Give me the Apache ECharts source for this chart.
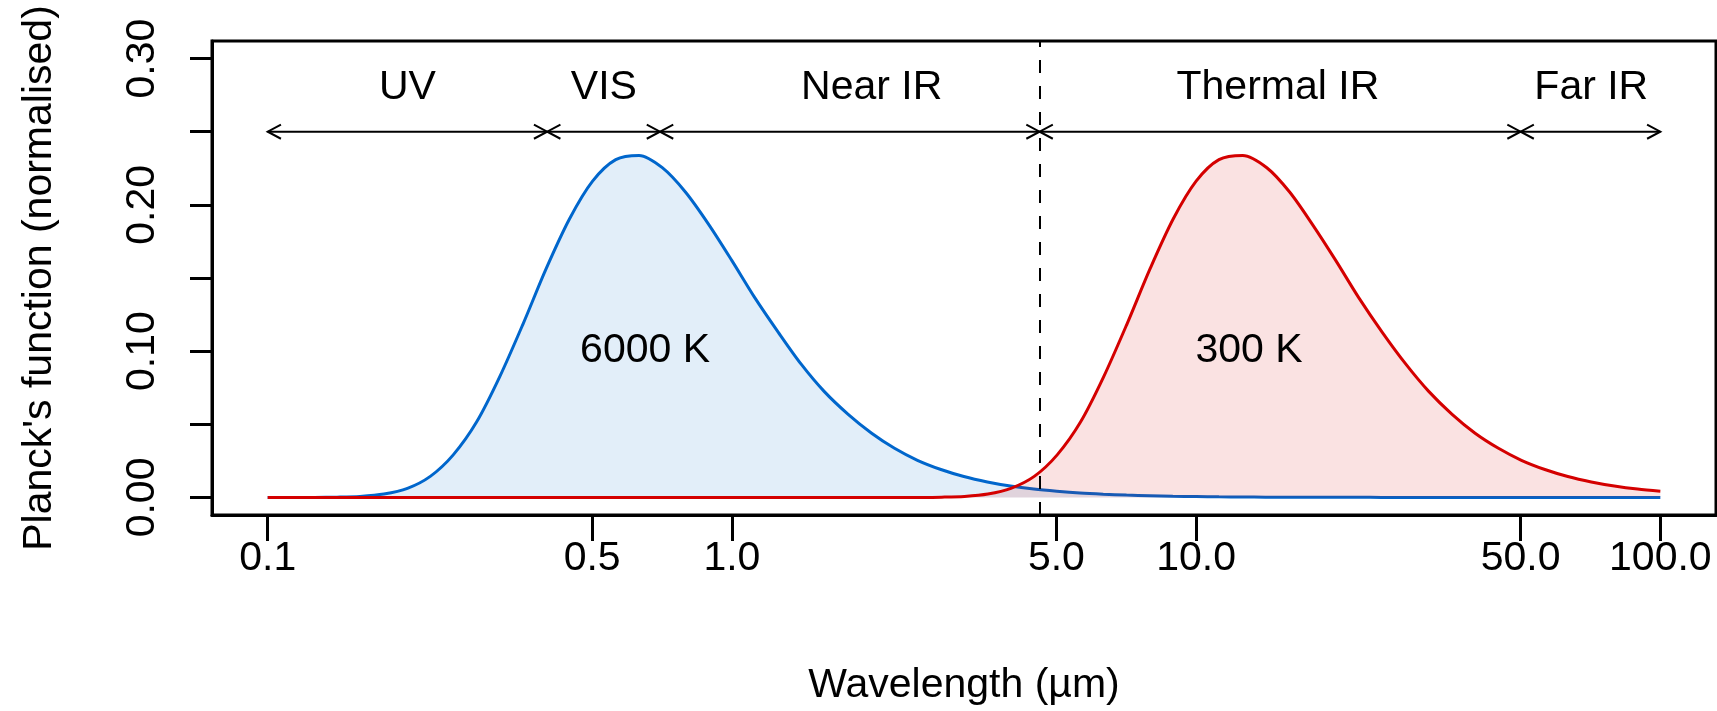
<!DOCTYPE html>
<html>
<head>
<meta charset="utf-8">
<title>Planck</title>
<script src="https://cdn.jsdelivr.net/npm/echarts@6/dist/echarts.min.js"></script>
<style>
  html, body { margin: 0; padding: 0; background: #fff; }
  #chart { width: 1717px; height: 711px; }
</style>
</head>
<body>
<div id="chart"></div>
<script>
// wavelength (um) and normalised Planck values
const wl6000 = [0.1, 0.112, 0.126, 0.141, 0.158, 0.178, 0.2, 0.224, 0.251, 0.282, 0.316, 0.355, 0.398, 0.447, 0.501, 0.562, 0.631, 0.708, 0.794, 0.891,
  1, 1.12, 1.26, 1.41, 1.58, 1.78, 2, 2.24, 2.51, 2.82, 3.16, 3.55, 3.98, 4.47, 5.01, 5.62, 6.31, 7.08, 7.94, 8.91,
  10, 11.2, 12.6, 14.1, 15.8, 17.8, 20, 22.4, 25.1, 28.2, 31.6, 35.5, 39.8, 44.7, 50.1, 56.2, 63.1, 70.8, 79.4, 89.1, 100];
const val6000 = [0, 0, 0.00003, 0.0002, 0.0007, 0.0023, 0.0062, 0.0144, 0.0291, 0.0517, 0.0824, 0.1187, 0.1564, 0.1905, 0.2162, 0.2309, 0.2338, 0.2254, 0.2088, 0.1867,
  0.1619, 0.1366, 0.1127, 0.0911, 0.0725, 0.0568, 0.0439, 0.0336, 0.0254, 0.0191, 0.0143, 0.0106, 0.0078, 0.0057, 0.0042, 0.0030, 0.0022, 0.0016, 0.0012, 0.0008,
  0.0006, 0.0004, 0.0003, 0.0002, 0.0002, 0.0001, 0.0001, 0.0001, 0, 0, 0, 0, 0, 0, 0, 0, 0, 0, 0, 0, 0];

const wl300 = [0.1, 0.2, 0.4, 0.8, 1.26, 1.58, 2, 2.24, 2.52, 2.83, 3.17, 3.56, 3.99, 4.48, 5.02, 5.64, 6.32, 7.1, 7.96, 8.93, 10, 11.2, 12.6, 14.2, 15.9, 17.8,
  20, 22.4, 25.2, 28.3, 31.7, 35.6, 39.9, 44.8, 50.2, 56.4, 63.2, 71, 79.6, 89.3, 100];
const val300 = [0, 0, 0, 0, 0, 0, 0, 0, 0.00003, 0.0002, 0.0007, 0.0023, 0.0062, 0.0144, 0.0291, 0.0517, 0.0824, 0.1187, 0.1564, 0.1905, 0.2162, 0.2309, 0.2338, 0.2254, 0.2088, 0.1867,
  0.1619, 0.1366, 0.1127, 0.0911, 0.0725, 0.0568, 0.0439, 0.0336, 0.0254, 0.0191, 0.0143, 0.0106, 0.0078, 0.0057, 0.0043];

// spectral regions
const regionNames = ['UV', 'VIS', 'Near IR', 'Thermal IR', 'Far IR'];
const regionBounds = [0.1, 0.4, 0.7, 4.6, 50, 100];
const regionLabelX = [0.2, 0.53, 2.0, 15, 71];
const arrowY = 0.25;
const regionLabelY = 0.28;

const curveNames = ['6000 K', '300 K'];
const curveLabelX = [0.65, 13];
const curveLabelY = [0.10, 0.10];

const xTicks = [0.1, 0.5, 1, 5, 10, 50, 100];
const yTicks = [0, 0.05, 0.1, 0.15, 0.2, 0.25, 0.3];
const yLabels = [0, 0.1, 0.2, 0.3];
const dividerX = 4.6;

const FONT = 'Liberation Sans, Arial, sans-serif';
const FS = 41;

const chart = echarts.init(document.getElementById('chart'));

const regionData = regionNames.map((n, i) => [regionBounds[i], regionBounds[i + 1], regionLabelX[i], n]);
const curveText = curveNames.map((n, i) => [curveLabelX[i], curveLabelY[i], n]);

function head(tip, dir) {
  // open arrow head, two strokes back from the tip
  const L = 15, a = 28 * Math.PI / 180;
  return [
    [tip[0] - dir * L * Math.cos(a), tip[1] - L * Math.sin(a)],
    tip,
    [tip[0] - dir * L * Math.cos(a), tip[1] + L * Math.sin(a)]
  ];
}

chart.setOption({
  animation: false,
  backgroundColor: '#fff',
  textStyle: { fontFamily: FONT },
  grid: {
    left: 212, right: 1, top: 41, bottom: 192,
    show: true, borderColor: '#000', borderWidth: 3, backgroundColor: 'transparent'
  },
  xAxis: {
    type: 'log',
    logBase: 10,
    min: 0.07586,
    max: 131.8,
    name: 'Wavelength (µm)',
    nameLocation: 'middle',
    nameGap: 150,
    nameTextStyle: { color: '#000', fontSize: FS, fontFamily: FONT },
    axisLine: { show: true, onZero: false, lineStyle: { color: '#000', width: 3 } },
    axisTick: { show: true, customValues: xTicks, length: 26, lineStyle: { color: '#000', width: 3 } },
    axisLabel: {
      customValues: xTicks, color: '#000', fontSize: FS, fontFamily: FONT, margin: 23,
      formatter: v => Number(v).toFixed(1)
    },
    splitLine: { show: false },
    minorTick: { show: false }
  },
  yAxis: {
    type: 'value',
    min: -0.012,
    max: 0.312,
    name: "Planck's function (normalised)",
    nameLocation: 'middle',
    nameRotate: 90,
    nameGap: 152,
    nameTextStyle: { color: '#000', fontSize: FS, fontFamily: FONT },
    axisLine: { show: true, lineStyle: { color: '#000', width: 3 } },
    axisTick: { show: true, customValues: yTicks, length: 22, lineStyle: { color: '#000', width: 3 } },
    axisLabel: {
      customValues: yLabels, color: '#000', fontSize: FS, fontFamily: FONT, rotate: 90, margin: 49,
      formatter: v => Number(v).toFixed(2)
    },
    splitLine: { show: false }
  },
  series: [
    {
      name: '6000 K',
      type: 'line',
      data: wl6000.map((x, i) => [x, val6000[i]]),
      showSymbol: false,
      smooth: 0.3,
      lineStyle: { color: '#0066cc', width: 3 },
      areaStyle: { color: 'rgba(0,102,204,0.16)' },
      markLine: {
        silent: true,
        symbol: 'none',
        label: { show: false },
        lineStyle: { color: '#000', width: 2, type: [13, 13] },
        data: [{ xAxis: dividerX }]
      },
      z: 2
    },
    {
      name: '300 K',
      type: 'line',
      data: wl300.map((x, i) => [x, val300[i]]),
      showSymbol: false,
      smooth: 0.3,
      lineStyle: { color: '#d40000', width: 3 },
      areaStyle: { color: 'rgba(212,0,0,0.16)' },
      z: 3
    },
    {
      type: 'custom',
      data: regionData,
      z: 5,
      renderItem: (params, api) => {
        const p0 = api.coord([api.value(0), arrowY]);
        const p1 = api.coord([api.value(1), arrowY]);
        const pt = api.coord([api.value(2), regionLabelY]);
        const st = { stroke: '#000', lineWidth: 2, fill: null };
        return {
          type: 'group',
          children: [
            { type: 'line', shape: { x1: p0[0], y1: p0[1], x2: p1[0], y2: p1[1] }, style: st },
            { type: 'polyline', shape: { points: head(p0, -1) }, style: st },
            { type: 'polyline', shape: { points: head(p1, 1) }, style: st },
            {
              type: 'text', x: pt[0], y: pt[1],
              style: {
                text: regionNames[params.dataIndex], fill: '#000', font: FS + 'px ' + FONT,
                align: 'center', verticalAlign: 'middle'
              }
            }
          ]
        };
      }
    },
    {
      type: 'custom',
      data: curveText,
      z: 5,
      renderItem: (params, api) => {
        const p = api.coord([api.value(0), api.value(1)]);
        return {
          type: 'text', x: p[0], y: p[1],
          style: {
            text: curveNames[params.dataIndex], fill: '#000', font: FS + 'px ' + FONT,
            align: 'center', verticalAlign: 'middle'
          }
        };
      }
    }
  ]
});
</script>
</body>
</html>
